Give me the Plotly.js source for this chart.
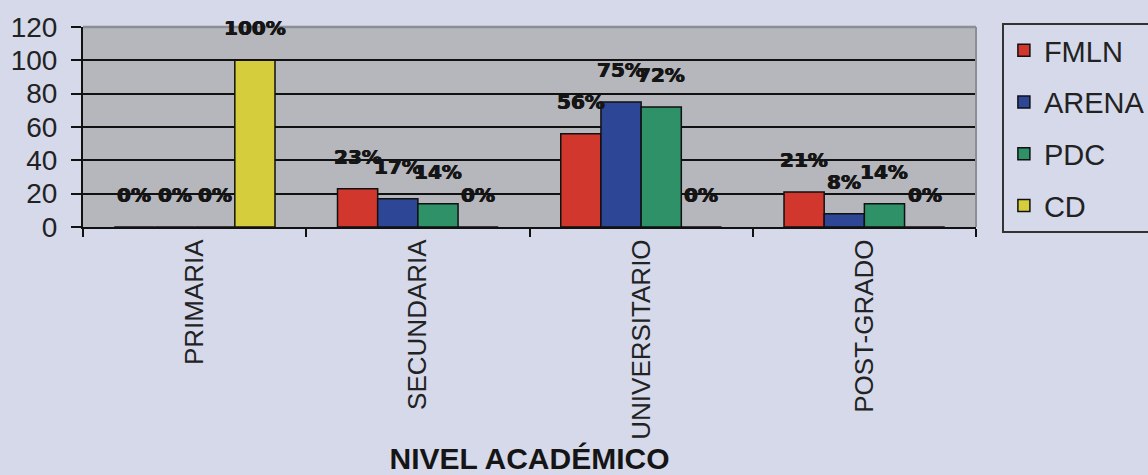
<!DOCTYPE html>
<html>
<head>
<meta charset="utf-8">
<script src="https://cdn.plot.ly/plotly-3.0.1.min.js"></script>
<style>
  html, body { margin: 0; padding: 0; background: #d5d9ea; overflow: hidden; }
  #wrap { width: 1148px; height: 475px; overflow: hidden; }
</style>
</head>
<body>
<div id="wrap"><div id="chart"></div></div>
<script>
// Nivel académico por partido (porcentajes)
const categories = ['PRIMARIA', 'SECUNDARIA', 'UNIVERSITARIO', 'POST-GRADO'];
const seriesNames = ['FMLN', 'ARENA', 'PDC', 'CD'];
const fmln  = [0, 23, 56, 21];
const arena = [0, 17, 75, 8];
const pdc   = [0, 14, 72, 14];
const cd    = [100, 0, 0, 0];
const yTicks = [0, 20, 40, 60, 80, 100, 120];

const seriesValues = [fmln, arena, pdc, cd];
const seriesColors = ['#d2372d', '#2d4696', '#2e9168', '#d6cd3c'];

// The figure is a little wider than the window so the legend box runs off the right edge
const W = 1172, H = 475;
const margin = { l: 83, r: 196, t: 27, b: 248, pad: 0 };
const bargap = 0.28;
const font = 'Liberation Sans, Arial, sans-serif';

const traces = seriesNames.map((name, j) => ({
  type: 'bar',
  name: name,
  x: categories,
  y: seriesValues[j],
  legendgroup: name,
  marker: { color: seriesColors[j], line: { color: '#111', width: 1.5 } },
  hoverinfo: 'x+y+name'
}));

// Percentage labels centred over each bar, lifted above its top
const plotW = W - margin.l - margin.r;
const barPx = plotW / categories.length * (1 - bargap) / seriesNames.length;
const annotations = [];
seriesValues.forEach((vals, j) => {
  vals.forEach((v, i) => {
    annotations.push({
      x: categories[i], y: v, xref: 'x', yref: 'y',
      text: v + '%', showarrow: false,
      xshift: (j - (seriesNames.length - 1) / 2) * barPx,
      yshift: 32,
      font: {
        family: 'DejaVu Sans, sans-serif', size: 20, weight: 'bold', color: '#151515',
        shadow: '0.5px 0 0 #151515, -0.5px 0 0 #151515'
      }
    });
  });
});

const layout = {
  width: W, height: H,
  margin: margin,
  paper_bgcolor: '#d5d9ea',
  plot_bgcolor: '#b5b7bd',
  barmode: 'group',
  bargap: bargap,
  bargroupgap: 0,
  showlegend: true,
  legend: {
    x: 1.029, xanchor: 'left', y: 1.02, yanchor: 'top',
    bgcolor: 'rgba(0,0,0,0)', bordercolor: '#333', borderwidth: 2,
    traceorder: 'grouped', tracegroupgap: 11,
    font: { family: font, size: 29, color: '#222' }
  },
  xaxis: {
    type: 'category',
    showline: true, linecolor: '#111', linewidth: 2,
    ticks: 'outside', tickson: 'boundaries', ticklen: 8, tickwidth: 2, tickcolor: '#111',
    tickangle: -90,
    tickfont: { family: font, size: 26, color: '#222' },
    showgrid: false, zeroline: false,
    title: {
      text: 'NIVEL ACADÉMICO', standoff: 10,
      font: { family: font, size: 30, weight: 'bold', color: '#151515' }
    }
  },
  yaxis: {
    range: [0, 120], tickvals: yTicks,
    showgrid: true, gridcolor: '#111', gridwidth: 2,
    showline: true, linecolor: '#111', linewidth: 2,
    ticks: 'outside', ticklen: 10, tickwidth: 2, tickcolor: '#111',
    ticklabelstandoff: 8,
    tickfont: { family: font, size: 28, color: '#222' },
    zeroline: false
  },
  // grey frame along the top and right of the plot area
  shapes: [
    { type: 'line', xref: 'paper', yref: 'paper', x0: 0, x1: 1, y0: 1, y1: 1,
      line: { color: '#8c8e93', width: 2.5 }, layer: 'above' },
    { type: 'line', xref: 'paper', yref: 'paper', x0: 1, x1: 1, y0: 0, y1: 1,
      line: { color: '#8c8e93', width: 2 }, layer: 'above' }
  ],
  annotations: annotations
};

Plotly.newPlot('chart', traces, layout, { displayModeBar: false, staticPlot: true });
</script>
</body>
</html>
